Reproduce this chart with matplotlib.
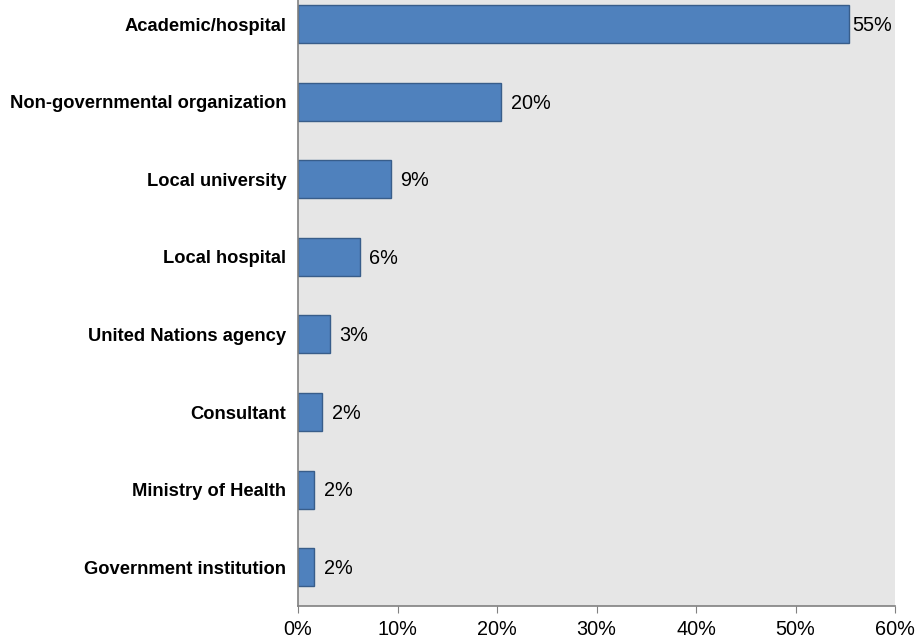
import matplotlib
matplotlib.use("Agg")
import matplotlib.pyplot as plt
from matplotlib.ticker import FuncFormatter

categories = ["Academic/hospital", "Non-governmental organization", "Local university",
              "Local hospital", "United Nations agency", "Consultant",
              "Ministry of Health", "Government institution"]
values = [55.4, 20.4, 9.3, 6.2, 3.2, 2.4, 1.6, 1.6]
value_labels = ["55%", "20%", "9%", "6%", "3%", "2%", "2%", "2%"]
xticks = [0, 10, 20, 30, 40, 50, 60]

plt.rcParams['font.family'] = ['Liberation Sans', 'DejaVu Sans']

fig = plt.figure(figsize=(9.21, 6.43), dpi=100)
ax = fig.add_axes([298/921, 1 - 606/643, (895-298)/921, 606/643])
ax.set_facecolor('#E6E6E6')

n = len(categories)
ypos = [n - 1 - i for i in range(n)]
ax.barh(ypos, values, height=0.49, color='#4F81BD', edgecolor='#385D8A', linewidth=1)

for i, (y, v, lab) in enumerate(zip(ypos, values, value_labels)):
    off = 2 if i == 0 else 7
    ax.annotate(lab, (v, y), xytext=(off, -1), textcoords='offset points',
                va='center', ha='left', fontsize=14.3, clip_on=False)

ax.set_xlim(0, 60)
ax.set_ylim(-0.5, n - 1 + 0.31)
ax.set_xticks(xticks)
ax.xaxis.set_major_formatter(FuncFormatter(lambda x, p: f"{int(x)}%"))
ax.set_yticks(ypos)
ax.set_yticklabels(categories, fontsize=13.2, fontweight='bold')
ax.tick_params(axis='y', length=0, pad=8.5)
ax.tick_params(axis='x', length=5, color='#808080', labelsize=14.3, pad=5, direction='out')

for s in ['top', 'right']:
    ax.spines[s].set_visible(False)
for s in ['left', 'bottom']:
    ax.spines[s].set_color('#808080')
    ax.spines[s].set_linewidth(1.2)

fig.savefig('out.png', dpi=100)
